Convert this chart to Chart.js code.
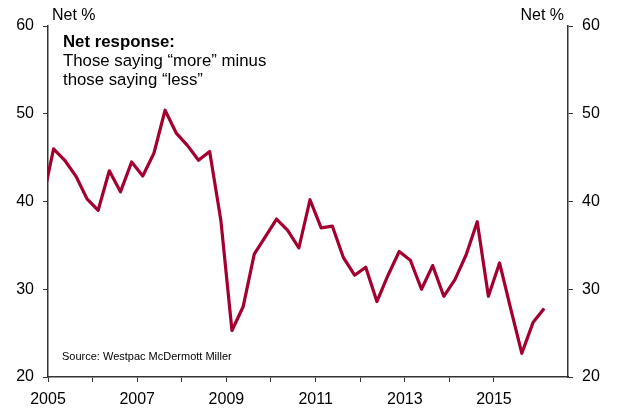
<!DOCTYPE html>
<html>
<head>
<meta charset="utf-8">
<script src="https://cdn.jsdelivr.net/npm/chart.js@4/dist/chart.umd.min.js"></script>
<style>
  html, body { margin: 0; padding: 0; background: #fff; }
  #wrap { width: 620px; height: 411px; }
</style>
</head>
<body>
<div id="wrap"><canvas id="spendChart" width="620" height="411"></canvas></div>
<script>
// Quarterly survey, net % (first quarter sits just left of the axis and is clipped)
const quarters = [
    '2004 Q4',
    '2005 Q1', '2005 Q2', '2005 Q3', '2005 Q4',
    '2006 Q1', '2006 Q2', '2006 Q3', '2006 Q4',
    '2007 Q1', '2007 Q2', '2007 Q3', '2007 Q4',
    '2008 Q1', '2008 Q2', '2008 Q3', '2008 Q4',
    '2009 Q1', '2009 Q2', '2009 Q3', '2009 Q4',
    '2010 Q1', '2010 Q2', '2010 Q3', '2010 Q4',
    '2011 Q1', '2011 Q2', '2011 Q3', '2011 Q4',
    '2012 Q1', '2012 Q2', '2012 Q3', '2012 Q4',
    '2013 Q1', '2013 Q2', '2013 Q3', '2013 Q4',
    '2014 Q1', '2014 Q2', '2014 Q3', '2014 Q4',
    '2015 Q1', '2015 Q2', '2015 Q3', '2015 Q4',
    '2016 Q1'
];
const netResponse = [
    40.0,
    46.0, 44.7, 42.9, 40.3,
    39.0, 43.5, 41.1, 44.5,
    42.9, 45.5, 50.4, 47.8,
    46.4, 44.7, 45.7, 37.9,
    25.3, 28.0, 34.0, 36.0,
    38.0, 36.7, 34.7, 40.2,
    37.0, 37.2, 33.6, 31.6,
    32.5, 28.6, 31.6, 34.3,
    33.3, 30.0, 32.7, 29.2,
    31.1, 33.9, 37.7, 29.2,
    33.0, 27.8, 22.7, 26.2,
    27.8
];
const yTicks = [20, 30, 40, 50, 60];
const yearLabels = [2005, 2007, 2009, 2011, 2013, 2015];

const FONT = "'Liberation Sans', Arial, sans-serif";
const AXIS = '#333333';
const LINE = '#a3002f';

// quarter string -> decimal year, point placed mid-quarter
function quarterToYear(q) {
    const [y, qq] = q.split(' Q');
    return Number(y) + (Number(qq) - 1) / 4 + 0.125;
}

const points = quarters.map((q, i) => ({ x: quarterToYear(q), y: netResponse[i] }));

// fixed plot box so both axes sit where they should
function fixWidth(w) { return scale => { scale.width = w; }; }

const textPlugin = {
    id: 'notes',
    afterDraw(chart) {
        const { ctx, chartArea } = chart;
        ctx.save();
        ctx.fillStyle = '#000';
        ctx.textBaseline = 'middle';

        ctx.font = `16px ${FONT}`;
        ctx.textAlign = 'left';
        ctx.fillText('Net %', 52, 16);
        ctx.textAlign = 'right';
        ctx.fillText('Net %', 564, 16);

        ctx.textAlign = 'left';
        ctx.font = `bold 16.8px ${FONT}`;
        ctx.fillText('Net response:', 63, 42);
        ctx.font = `16.8px ${FONT}`;
        ctx.fillText('Those saying \u201cmore\u201d minus', 63, 61);
        ctx.fillText('those saying \u201cless\u201d', 63, 80);

        ctx.font = `11px ${FONT}`;
        ctx.fillText('Source: Westpac McDermott Miller', 62, chartArea.bottom - 20);
        ctx.restore();
    }
};

const tickGrid = {
    drawOnChartArea: false,
    drawTicks: true,
    tickLength: 5,
    tickColor: AXIS,
    lineWidth: 1
};

const yScale = position => ({
    type: 'linear',
    position,
    min: yTicks[0],
    max: yTicks[yTicks.length - 1],
    afterBuildTicks: scale => { scale.ticks = yTicks.map(v => ({ value: v })); },
    afterFit: fixWidth(position === 'left' ? 48 : 52),
    grid: tickGrid,
    border: { display: true, color: AXIS, width: 1.5 },
    ticks: { color: '#000', font: { family: FONT, size: 16 }, padding: 9 }
});

new Chart(document.getElementById('spendChart'), {
    type: 'line',
    data: {
        datasets: [{
            data: points,
            borderColor: LINE,
            borderWidth: 3.2,
            borderJoinStyle: 'round',
            borderCapStyle: 'butt',
            pointRadius: 0,
            tension: 0,
            fill: false,
            yAxisID: 'y'
        }]
    },
    options: {
        responsive: false,
        animation: false,
        events: [],
        layout: { padding: { top: 26, left: 0, right: 0, bottom: 0 } },
        plugins: { legend: { display: false }, tooltip: { enabled: false } },
        scales: {
            x: {
                type: 'linear',
                min: 2005,
                max: 2016.66,
                afterBuildTicks: scale => {
                    scale.ticks = scale.ticks.filter(t => Number.isInteger(t.value));
                },
                afterFit: scale => { scale.height = 34; },
                grid: tickGrid,
                border: { display: true, color: AXIS, width: 1.5 },
                ticks: {
                    stepSize: 1,
                    autoSkip: false,
                    maxRotation: 0,
                    color: '#000',
                    padding: 8,
                    font: { family: FONT, size: 16 },
                    callback: v => yearLabels.includes(v) ? String(v) : ''
                }
            },
            y: yScale('left'),
            y2: yScale('right')
        }
    },
    plugins: [textPlugin]
});
</script>
</body>
</html>
